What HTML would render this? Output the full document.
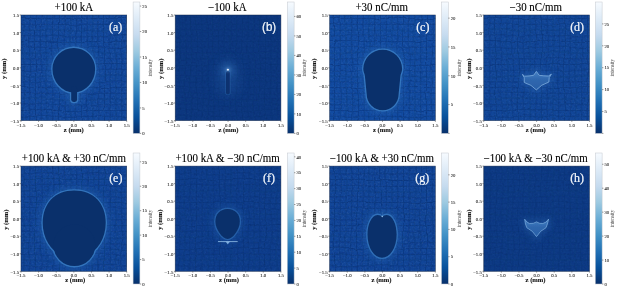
<!DOCTYPE html>
<html><head><meta charset="utf-8"><style>
html,body{margin:0;padding:0;background:#fff;}
body{width:617px;height:289px;overflow:hidden;font-family:"Liberation Serif",serif;}
svg{display:block;will-change:transform;}
</style></head><body>
<svg width="617" height="289" viewBox="0 0 617 289">
<defs><linearGradient id="cbg" x1="0" y1="1" x2="0" y2="0"><stop offset="0.0000" stop-color="#08306b"/><stop offset="0.1250" stop-color="#08519c"/><stop offset="0.2500" stop-color="#2171b5"/><stop offset="0.3750" stop-color="#4292c6"/><stop offset="0.5000" stop-color="#6baed6"/><stop offset="0.6250" stop-color="#9ecae1"/><stop offset="0.7500" stop-color="#c6dbef"/><stop offset="0.8750" stop-color="#deebf7"/><stop offset="1.0000" stop-color="#f7fbff"/></linearGradient>
<filter id="bl" x="-20%" y="-20%" width="140%" height="140%"><feGaussianBlur stdDeviation="0.7"/></filter>
<filter id="bl2" x="-150%" y="-150%" width="400%" height="400%"><feGaussianBlur stdDeviation="1.4"/></filter>
<filter id="bl3" x="-150%" y="-150%" width="400%" height="400%"><feGaussianBlur stdDeviation="3"/></filter>
<filter id="bl4" x="-20%" y="-20%" width="140%" height="140%"><feGaussianBlur stdDeviation="0.4"/></filter>
<filter id="bl6" x="-100%" y="-100%" width="300%" height="300%"><feGaussianBlur stdDeviation="6"/></filter>
<filter id="wv" x="-5%" y="-5%" width="110%" height="110%"><feTurbulence type="fractalNoise" baseFrequency="0.035" numOctaves="2" seed="11" result="w"/><feDisplacementMap in="SourceGraphic" in2="w" scale="5" xChannelSelector="R" yChannelSelector="G"/></filter>
<linearGradient id="gd" x1="0" y1="0" x2="0" y2="1"><stop offset="0" stop-color="#4680c4"/><stop offset="0.45" stop-color="#2f67ae"/><stop offset="1" stop-color="#2a60a8"/></linearGradient>
<filter id="nz" x="0" y="0" width="100%" height="100%" color-interpolation-filters="sRGB"><feTurbulence type="fractalNoise" baseFrequency="0.55" numOctaves="2" seed="7" result="t"/><feColorMatrix type="matrix" values="0 0 0 0 1  0 0 0 0 1  0 0 0 0 1  1.6 0 0 0 -0.75" /></filter>
<filter id="nzd" x="0" y="0" width="100%" height="100%" color-interpolation-filters="sRGB"><feTurbulence type="fractalNoise" baseFrequency="0.5" numOctaves="2" seed="3" result="t"/><feColorMatrix type="matrix" values="0 0 0 0 0  0 0 0 0 0.05  0 0 0 0 0.2  1.6 0 0 0 -0.75" /></filter>
<pattern id="grid" patternUnits="userSpaceOnUse" width="5.75" height="5.75" x="0.5" y="0.8"><rect x="0" y="0" width="0.9" height="5.75" fill="#06285e"/><rect x="0" y="0" width="5.75" height="0.9" fill="#06285e"/></pattern></defs>
<rect width="617" height="289" fill="#fff"/>
<g>
<clipPath id="cp0"><rect x="21.00" y="15.00" width="105.70" height="105.60"/></clipPath>
<rect x="21.00" y="15.00" width="105.70" height="105.60" fill="#12489c"/>
<g clip-path="url(#cp0)">
<g filter="url(#wv)"><rect x="17.00" y="11.00" width="113.70" height="113.60" fill="url(#grid)" opacity="0.300"/></g>
<rect x="21.00" y="15.00" width="105.70" height="105.60" filter="url(#nz)" opacity="0.100"/>
<rect x="21.00" y="15.00" width="105.70" height="105.60" filter="url(#nzd)" opacity="0.250"/>
<g filter="url(#bl3)" opacity="0.35"><path d="M73.80,47.90 A21.30,21.00 0 0 1 95.10,68.90 A21.30,23.60 0 0 1 73.80,92.50 A21.30,23.60 0 0 1 52.50,68.90 A21.30,21.00 0 0 1 73.80,47.90 Z" none stroke="#2a6cb8" stroke-width="9.00"/><rect x="71.2" y="86" width="5.9" height="15.9" rx="2.4" none stroke="#2a6cb8" stroke-width="9.00"/></g><g filter="url(#bl)" opacity="0.70"><path d="M73.80,47.90 A21.30,21.00 0 0 1 95.10,68.90 A21.30,23.60 0 0 1 73.80,92.50 A21.30,23.60 0 0 1 52.50,68.90 A21.30,21.00 0 0 1 73.80,47.90 Z" none stroke="#3f86cc" stroke-width="2.60"/><rect x="71.2" y="86" width="5.9" height="15.9" rx="2.4" none stroke="#3f86cc" stroke-width="2.60"/></g><path d="M73.80,47.90 A21.30,21.00 0 0 1 95.10,68.90 A21.30,23.60 0 0 1 73.80,92.50 A21.30,23.60 0 0 1 52.50,68.90 A21.30,21.00 0 0 1 73.80,47.90 Z" fill="#0a306b" /><rect x="71.2" y="86" width="5.9" height="15.9" rx="2.4" fill="#0a306b" />
</g>
<rect x="21.00" y="15.00" width="105.70" height="105.60" fill="none" stroke="#14284a" stroke-width="0.6" opacity="0.8"/>
<text transform="translate(108.95 30.50) scale(0.93 1)" font-family="'Liberation Serif', serif" font-size="12.8" fill="#f2f6fb" stroke="#f2f6fb" stroke-width="0.25">(a)</text>
<text transform="translate(73.85 10.80) scale(0.931 1)" font-family="'Liberation Serif', serif" font-size="11.7" fill="#000" stroke="#000" stroke-width="0.12" text-anchor="middle">+100 kA</text>
<line x1="21.00" y1="120.60" x2="21.00" y2="121.90" stroke="#333" stroke-width="0.5"/>
<text x="21.00" y="126.55" font-family="'Liberation Serif', serif" font-size="4.8" fill="#2a2a2a" stroke="#2a2a2a" stroke-width="0.08" text-anchor="middle">−1.5</text>
<line x1="19.70" y1="120.60" x2="21.00" y2="120.60" stroke="#333" stroke-width="0.5"/>
<text x="19.10" y="122.80" font-family="'Liberation Serif', serif" font-size="4.8" fill="#2a2a2a" stroke="#2a2a2a" stroke-width="0.08" text-anchor="end">−1.5</text>
<line x1="38.62" y1="120.60" x2="38.62" y2="121.90" stroke="#333" stroke-width="0.5"/>
<text x="38.62" y="126.55" font-family="'Liberation Serif', serif" font-size="4.8" fill="#2a2a2a" stroke="#2a2a2a" stroke-width="0.08" text-anchor="middle">−1.0</text>
<line x1="19.70" y1="103.00" x2="21.00" y2="103.00" stroke="#333" stroke-width="0.5"/>
<text x="19.10" y="105.20" font-family="'Liberation Serif', serif" font-size="4.8" fill="#2a2a2a" stroke="#2a2a2a" stroke-width="0.08" text-anchor="end">−1.0</text>
<line x1="56.23" y1="120.60" x2="56.23" y2="121.90" stroke="#333" stroke-width="0.5"/>
<text x="56.23" y="126.55" font-family="'Liberation Serif', serif" font-size="4.8" fill="#2a2a2a" stroke="#2a2a2a" stroke-width="0.08" text-anchor="middle">−0.5</text>
<line x1="19.70" y1="85.40" x2="21.00" y2="85.40" stroke="#333" stroke-width="0.5"/>
<text x="19.10" y="87.60" font-family="'Liberation Serif', serif" font-size="4.8" fill="#2a2a2a" stroke="#2a2a2a" stroke-width="0.08" text-anchor="end">−0.5</text>
<line x1="73.85" y1="120.60" x2="73.85" y2="121.90" stroke="#333" stroke-width="0.5"/>
<text x="73.85" y="126.55" font-family="'Liberation Serif', serif" font-size="4.8" fill="#2a2a2a" stroke="#2a2a2a" stroke-width="0.08" text-anchor="middle">0.0</text>
<line x1="19.70" y1="67.80" x2="21.00" y2="67.80" stroke="#333" stroke-width="0.5"/>
<text x="19.10" y="70.00" font-family="'Liberation Serif', serif" font-size="4.8" fill="#2a2a2a" stroke="#2a2a2a" stroke-width="0.08" text-anchor="end">0.0</text>
<line x1="91.47" y1="120.60" x2="91.47" y2="121.90" stroke="#333" stroke-width="0.5"/>
<text x="91.47" y="126.55" font-family="'Liberation Serif', serif" font-size="4.8" fill="#2a2a2a" stroke="#2a2a2a" stroke-width="0.08" text-anchor="middle">0.5</text>
<line x1="19.70" y1="50.20" x2="21.00" y2="50.20" stroke="#333" stroke-width="0.5"/>
<text x="19.10" y="52.40" font-family="'Liberation Serif', serif" font-size="4.8" fill="#2a2a2a" stroke="#2a2a2a" stroke-width="0.08" text-anchor="end">0.5</text>
<line x1="109.08" y1="120.60" x2="109.08" y2="121.90" stroke="#333" stroke-width="0.5"/>
<text x="109.08" y="126.55" font-family="'Liberation Serif', serif" font-size="4.8" fill="#2a2a2a" stroke="#2a2a2a" stroke-width="0.08" text-anchor="middle">1.0</text>
<line x1="19.70" y1="32.60" x2="21.00" y2="32.60" stroke="#333" stroke-width="0.5"/>
<text x="19.10" y="34.80" font-family="'Liberation Serif', serif" font-size="4.8" fill="#2a2a2a" stroke="#2a2a2a" stroke-width="0.08" text-anchor="end">1.0</text>
<line x1="126.70" y1="120.60" x2="126.70" y2="121.90" stroke="#333" stroke-width="0.5"/>
<text x="126.70" y="126.55" font-family="'Liberation Serif', serif" font-size="4.8" fill="#2a2a2a" stroke="#2a2a2a" stroke-width="0.08" text-anchor="middle">1.5</text>
<line x1="19.70" y1="15.00" x2="21.00" y2="15.00" stroke="#333" stroke-width="0.5"/>
<text x="19.10" y="17.20" font-family="'Liberation Serif', serif" font-size="4.8" fill="#2a2a2a" stroke="#2a2a2a" stroke-width="0.08" text-anchor="end">1.5</text>
<text x="73.80" y="132.35" font-family="'Liberation Serif', serif" font-size="6.6" font-weight="bold" fill="#111" stroke="#111" stroke-width="0.1" text-anchor="middle">z (mm)</text>
<text transform="translate(6.45 68.80) rotate(-90)" font-family="'Liberation Serif', serif" font-size="6.6" font-weight="bold" fill="#111" stroke="#111" stroke-width="0.1" text-anchor="middle">y (mm)</text>
<rect x="133.10" y="2.00" width="6.80" height="131.40" fill="url(#cbg)" stroke="#c4c8ce" stroke-width="0.5"/>
<line x1="139.90" y1="133.40" x2="141.20" y2="133.40" stroke="#333" stroke-width="0.5"/>
<line x1="139.90" y1="107.93" x2="141.20" y2="107.93" stroke="#333" stroke-width="0.5"/>
<line x1="139.90" y1="82.47" x2="141.20" y2="82.47" stroke="#333" stroke-width="0.5"/>
<line x1="139.90" y1="57.00" x2="141.20" y2="57.00" stroke="#333" stroke-width="0.5"/>
<line x1="139.90" y1="31.54" x2="141.20" y2="31.54" stroke="#333" stroke-width="0.5"/>
<line x1="139.90" y1="6.07" x2="141.20" y2="6.07" stroke="#333" stroke-width="0.5"/>
<text x="142.30" y="135.15" font-family="'Liberation Serif', serif" font-size="4.7" fill="#2a2a2a" stroke="#2a2a2a" stroke-width="0.08">0</text>
<text x="142.30" y="109.68" font-family="'Liberation Serif', serif" font-size="4.7" fill="#2a2a2a" stroke="#2a2a2a" stroke-width="0.08">5</text>
<text x="142.30" y="84.22" font-family="'Liberation Serif', serif" font-size="4.7" fill="#2a2a2a" stroke="#2a2a2a" stroke-width="0.08">10</text>
<text x="142.30" y="58.75" font-family="'Liberation Serif', serif" font-size="4.7" fill="#2a2a2a" stroke="#2a2a2a" stroke-width="0.08">15</text>
<text x="142.30" y="33.29" font-family="'Liberation Serif', serif" font-size="4.7" fill="#2a2a2a" stroke="#2a2a2a" stroke-width="0.08">20</text>
<text x="142.30" y="7.82" font-family="'Liberation Serif', serif" font-size="4.7" fill="#2a2a2a" stroke="#2a2a2a" stroke-width="0.08">25</text>
<text transform="translate(152.10 67.70) rotate(-90)" font-family="'Liberation Serif', serif" font-size="5.1" fill="#444" text-anchor="middle">intensity</text>
</g>
<g>
<clipPath id="cp1"><rect x="175.20" y="15.00" width="105.70" height="105.60"/></clipPath>
<rect x="175.20" y="15.00" width="105.70" height="105.60" fill="#0c377f"/>
<g clip-path="url(#cp1)">
<g filter="url(#wv)"><rect x="171.20" y="11.00" width="113.70" height="113.60" fill="url(#grid)" opacity="0.186"/></g>
<rect x="175.20" y="15.00" width="105.70" height="105.60" filter="url(#nz)" opacity="0.039"/>
<rect x="175.20" y="15.00" width="105.70" height="105.60" filter="url(#nzd)" opacity="0.155"/>
<g filter="url(#bl6)" opacity="0.3"><ellipse cx="228" cy="78" rx="11" ry="18" fill="#2a68b0"/></g><g filter="url(#bl3)" opacity="0.32"><circle cx="227.9" cy="70" r="3" none stroke="#3d7fc6" stroke-width="8.00"/></g><g filter="url(#bl)" opacity="0.3"><rect x="225.2" y="70.3" width="5.4" height="24.8" rx="2.7" fill="#3b7cc4"/></g><g filter="url(#bl4)"><rect x="226" y="71.0" width="3.8" height="23.4" rx="1.9" fill="#0a3170" /></g><g filter="url(#bl2)"><circle cx="227.9" cy="69.8" r="1.8" fill="#6a9fd8"/></g><g filter="url(#bl4)"><ellipse cx="227.9" cy="69.7" rx="1.15" ry="0.9" fill="#dfeaf8"/></g>
</g>
<rect x="175.20" y="15.00" width="105.70" height="105.60" fill="none" stroke="#14284a" stroke-width="0.6" opacity="0.8"/>
<text transform="translate(262.05 30.50) scale(0.93 1)" font-family="'Liberation Sans', sans-serif" font-size="12.4" fill="#f2f6fb" stroke="#f2f6fb" stroke-width="0.25">(b)</text>
<text transform="translate(227.25 10.80) scale(0.931 1)" font-family="'Liberation Serif', serif" font-size="11.7" fill="#000" stroke="#000" stroke-width="0.12" text-anchor="middle">−100 kA</text>
<line x1="175.20" y1="120.60" x2="175.20" y2="121.90" stroke="#333" stroke-width="0.5"/>
<text x="175.20" y="126.55" font-family="'Liberation Serif', serif" font-size="4.8" fill="#2a2a2a" stroke="#2a2a2a" stroke-width="0.08" text-anchor="middle">−1.5</text>
<line x1="173.90" y1="120.60" x2="175.20" y2="120.60" stroke="#333" stroke-width="0.5"/>
<text x="173.30" y="122.80" font-family="'Liberation Serif', serif" font-size="4.8" fill="#2a2a2a" stroke="#2a2a2a" stroke-width="0.08" text-anchor="end">−1.5</text>
<line x1="192.82" y1="120.60" x2="192.82" y2="121.90" stroke="#333" stroke-width="0.5"/>
<text x="192.82" y="126.55" font-family="'Liberation Serif', serif" font-size="4.8" fill="#2a2a2a" stroke="#2a2a2a" stroke-width="0.08" text-anchor="middle">−1.0</text>
<line x1="173.90" y1="103.00" x2="175.20" y2="103.00" stroke="#333" stroke-width="0.5"/>
<text x="173.30" y="105.20" font-family="'Liberation Serif', serif" font-size="4.8" fill="#2a2a2a" stroke="#2a2a2a" stroke-width="0.08" text-anchor="end">−1.0</text>
<line x1="210.43" y1="120.60" x2="210.43" y2="121.90" stroke="#333" stroke-width="0.5"/>
<text x="210.43" y="126.55" font-family="'Liberation Serif', serif" font-size="4.8" fill="#2a2a2a" stroke="#2a2a2a" stroke-width="0.08" text-anchor="middle">−0.5</text>
<line x1="173.90" y1="85.40" x2="175.20" y2="85.40" stroke="#333" stroke-width="0.5"/>
<text x="173.30" y="87.60" font-family="'Liberation Serif', serif" font-size="4.8" fill="#2a2a2a" stroke="#2a2a2a" stroke-width="0.08" text-anchor="end">−0.5</text>
<line x1="228.05" y1="120.60" x2="228.05" y2="121.90" stroke="#333" stroke-width="0.5"/>
<text x="228.05" y="126.55" font-family="'Liberation Serif', serif" font-size="4.8" fill="#2a2a2a" stroke="#2a2a2a" stroke-width="0.08" text-anchor="middle">0.0</text>
<line x1="173.90" y1="67.80" x2="175.20" y2="67.80" stroke="#333" stroke-width="0.5"/>
<text x="173.30" y="70.00" font-family="'Liberation Serif', serif" font-size="4.8" fill="#2a2a2a" stroke="#2a2a2a" stroke-width="0.08" text-anchor="end">0.0</text>
<line x1="245.67" y1="120.60" x2="245.67" y2="121.90" stroke="#333" stroke-width="0.5"/>
<text x="245.67" y="126.55" font-family="'Liberation Serif', serif" font-size="4.8" fill="#2a2a2a" stroke="#2a2a2a" stroke-width="0.08" text-anchor="middle">0.5</text>
<line x1="173.90" y1="50.20" x2="175.20" y2="50.20" stroke="#333" stroke-width="0.5"/>
<text x="173.30" y="52.40" font-family="'Liberation Serif', serif" font-size="4.8" fill="#2a2a2a" stroke="#2a2a2a" stroke-width="0.08" text-anchor="end">0.5</text>
<line x1="263.28" y1="120.60" x2="263.28" y2="121.90" stroke="#333" stroke-width="0.5"/>
<text x="263.28" y="126.55" font-family="'Liberation Serif', serif" font-size="4.8" fill="#2a2a2a" stroke="#2a2a2a" stroke-width="0.08" text-anchor="middle">1.0</text>
<line x1="173.90" y1="32.60" x2="175.20" y2="32.60" stroke="#333" stroke-width="0.5"/>
<text x="173.30" y="34.80" font-family="'Liberation Serif', serif" font-size="4.8" fill="#2a2a2a" stroke="#2a2a2a" stroke-width="0.08" text-anchor="end">1.0</text>
<line x1="280.90" y1="120.60" x2="280.90" y2="121.90" stroke="#333" stroke-width="0.5"/>
<text x="280.90" y="126.55" font-family="'Liberation Serif', serif" font-size="4.8" fill="#2a2a2a" stroke="#2a2a2a" stroke-width="0.08" text-anchor="middle">1.5</text>
<line x1="173.90" y1="15.00" x2="175.20" y2="15.00" stroke="#333" stroke-width="0.5"/>
<text x="173.30" y="17.20" font-family="'Liberation Serif', serif" font-size="4.8" fill="#2a2a2a" stroke="#2a2a2a" stroke-width="0.08" text-anchor="end">1.5</text>
<text x="228.50" y="132.35" font-family="'Liberation Serif', serif" font-size="6.6" font-weight="bold" fill="#111" stroke="#111" stroke-width="0.1" text-anchor="middle">z (mm)</text>
<text transform="translate(163.05 68.80) rotate(-90)" font-family="'Liberation Serif', serif" font-size="6.6" font-weight="bold" fill="#111" stroke="#111" stroke-width="0.1" text-anchor="middle">y (mm)</text>
<rect x="287.30" y="2.00" width="6.80" height="131.40" fill="url(#cbg)" stroke="#c4c8ce" stroke-width="0.5"/>
<line x1="294.10" y1="133.40" x2="295.40" y2="133.40" stroke="#333" stroke-width="0.5"/>
<line x1="294.10" y1="113.90" x2="295.40" y2="113.90" stroke="#333" stroke-width="0.5"/>
<line x1="294.10" y1="94.41" x2="295.40" y2="94.41" stroke="#333" stroke-width="0.5"/>
<line x1="294.10" y1="74.91" x2="295.40" y2="74.91" stroke="#333" stroke-width="0.5"/>
<line x1="294.10" y1="55.42" x2="295.40" y2="55.42" stroke="#333" stroke-width="0.5"/>
<line x1="294.10" y1="35.92" x2="295.40" y2="35.92" stroke="#333" stroke-width="0.5"/>
<line x1="294.10" y1="16.43" x2="295.40" y2="16.43" stroke="#333" stroke-width="0.5"/>
<text x="296.50" y="135.15" font-family="'Liberation Serif', serif" font-size="4.7" fill="#2a2a2a" stroke="#2a2a2a" stroke-width="0.08">0</text>
<text x="296.50" y="115.65" font-family="'Liberation Serif', serif" font-size="4.7" fill="#2a2a2a" stroke="#2a2a2a" stroke-width="0.08">10</text>
<text x="296.50" y="96.16" font-family="'Liberation Serif', serif" font-size="4.7" fill="#2a2a2a" stroke="#2a2a2a" stroke-width="0.08">20</text>
<text x="296.50" y="76.66" font-family="'Liberation Serif', serif" font-size="4.7" fill="#2a2a2a" stroke="#2a2a2a" stroke-width="0.08">30</text>
<text x="296.50" y="57.17" font-family="'Liberation Serif', serif" font-size="4.7" fill="#2a2a2a" stroke="#2a2a2a" stroke-width="0.08">40</text>
<text x="296.50" y="37.67" font-family="'Liberation Serif', serif" font-size="4.7" fill="#2a2a2a" stroke="#2a2a2a" stroke-width="0.08">50</text>
<text x="296.50" y="18.18" font-family="'Liberation Serif', serif" font-size="4.7" fill="#2a2a2a" stroke="#2a2a2a" stroke-width="0.08">60</text>
<text transform="translate(306.30 67.70) rotate(-90)" font-family="'Liberation Serif', serif" font-size="5.1" fill="#444" text-anchor="middle">intensity</text>
</g>
<g>
<clipPath id="cp2"><rect x="329.65" y="15.00" width="105.70" height="105.60"/></clipPath>
<rect x="329.65" y="15.00" width="105.70" height="105.60" fill="#124ba1"/>
<g clip-path="url(#cp2)">
<g filter="url(#wv)"><rect x="325.65" y="11.00" width="113.70" height="113.60" fill="url(#grid)" opacity="0.300"/></g>
<rect x="329.65" y="15.00" width="105.70" height="105.60" filter="url(#nz)" opacity="0.100"/>
<rect x="329.65" y="15.00" width="105.70" height="105.60" filter="url(#nzd)" opacity="0.250"/>
<g filter="url(#bl3)" opacity="0.35"><path d="M382.7,49.7 A19.4,19.4 0 0 1 402.1,68.9 C402.1,71.6 400.6,73.5 400.4,76 L398.6,94.2 A15.95,15.95 0 0 1 366.7,94.2 L364.9,76 C364.7,73.5 363.3,71.6 363.3,68.9 A19.4,19.4 0 0 1 382.7,49.7 Z" none stroke="#2a6cb8" stroke-width="9.00"/></g><g filter="url(#bl)" opacity="0.70"><path d="M382.7,49.7 A19.4,19.4 0 0 1 402.1,68.9 C402.1,71.6 400.6,73.5 400.4,76 L398.6,94.2 A15.95,15.95 0 0 1 366.7,94.2 L364.9,76 C364.7,73.5 363.3,71.6 363.3,68.9 A19.4,19.4 0 0 1 382.7,49.7 Z" none stroke="#3f86cc" stroke-width="2.60"/></g><path d="M382.7,49.7 A19.4,19.4 0 0 1 402.1,68.9 C402.1,71.6 400.6,73.5 400.4,76 L398.6,94.2 A15.95,15.95 0 0 1 366.7,94.2 L364.9,76 C364.7,73.5 363.3,71.6 363.3,68.9 A19.4,19.4 0 0 1 382.7,49.7 Z" fill="#0a306b" />
</g>
<rect x="329.65" y="15.00" width="105.70" height="105.60" fill="none" stroke="#14284a" stroke-width="0.6" opacity="0.8"/>
<text transform="translate(416.15 30.50) scale(0.93 1)" font-family="'Liberation Serif', serif" font-size="12.8" fill="#f2f6fb" stroke="#f2f6fb" stroke-width="0.25">(c)</text>
<text transform="translate(381.65 10.80) scale(0.931 1)" font-family="'Liberation Serif', serif" font-size="11.7" fill="#000" stroke="#000" stroke-width="0.12" text-anchor="middle">+30 nC/mm</text>
<line x1="329.65" y1="120.60" x2="329.65" y2="121.90" stroke="#333" stroke-width="0.5"/>
<text x="329.65" y="126.55" font-family="'Liberation Serif', serif" font-size="4.8" fill="#2a2a2a" stroke="#2a2a2a" stroke-width="0.08" text-anchor="middle">−1.5</text>
<line x1="328.35" y1="120.60" x2="329.65" y2="120.60" stroke="#333" stroke-width="0.5"/>
<text x="327.75" y="122.80" font-family="'Liberation Serif', serif" font-size="4.8" fill="#2a2a2a" stroke="#2a2a2a" stroke-width="0.08" text-anchor="end">−1.5</text>
<line x1="347.27" y1="120.60" x2="347.27" y2="121.90" stroke="#333" stroke-width="0.5"/>
<text x="347.27" y="126.55" font-family="'Liberation Serif', serif" font-size="4.8" fill="#2a2a2a" stroke="#2a2a2a" stroke-width="0.08" text-anchor="middle">−1.0</text>
<line x1="328.35" y1="103.00" x2="329.65" y2="103.00" stroke="#333" stroke-width="0.5"/>
<text x="327.75" y="105.20" font-family="'Liberation Serif', serif" font-size="4.8" fill="#2a2a2a" stroke="#2a2a2a" stroke-width="0.08" text-anchor="end">−1.0</text>
<line x1="364.88" y1="120.60" x2="364.88" y2="121.90" stroke="#333" stroke-width="0.5"/>
<text x="364.88" y="126.55" font-family="'Liberation Serif', serif" font-size="4.8" fill="#2a2a2a" stroke="#2a2a2a" stroke-width="0.08" text-anchor="middle">−0.5</text>
<line x1="328.35" y1="85.40" x2="329.65" y2="85.40" stroke="#333" stroke-width="0.5"/>
<text x="327.75" y="87.60" font-family="'Liberation Serif', serif" font-size="4.8" fill="#2a2a2a" stroke="#2a2a2a" stroke-width="0.08" text-anchor="end">−0.5</text>
<line x1="382.50" y1="120.60" x2="382.50" y2="121.90" stroke="#333" stroke-width="0.5"/>
<text x="382.50" y="126.55" font-family="'Liberation Serif', serif" font-size="4.8" fill="#2a2a2a" stroke="#2a2a2a" stroke-width="0.08" text-anchor="middle">0.0</text>
<line x1="328.35" y1="67.80" x2="329.65" y2="67.80" stroke="#333" stroke-width="0.5"/>
<text x="327.75" y="70.00" font-family="'Liberation Serif', serif" font-size="4.8" fill="#2a2a2a" stroke="#2a2a2a" stroke-width="0.08" text-anchor="end">0.0</text>
<line x1="400.12" y1="120.60" x2="400.12" y2="121.90" stroke="#333" stroke-width="0.5"/>
<text x="400.12" y="126.55" font-family="'Liberation Serif', serif" font-size="4.8" fill="#2a2a2a" stroke="#2a2a2a" stroke-width="0.08" text-anchor="middle">0.5</text>
<line x1="328.35" y1="50.20" x2="329.65" y2="50.20" stroke="#333" stroke-width="0.5"/>
<text x="327.75" y="52.40" font-family="'Liberation Serif', serif" font-size="4.8" fill="#2a2a2a" stroke="#2a2a2a" stroke-width="0.08" text-anchor="end">0.5</text>
<line x1="417.73" y1="120.60" x2="417.73" y2="121.90" stroke="#333" stroke-width="0.5"/>
<text x="417.73" y="126.55" font-family="'Liberation Serif', serif" font-size="4.8" fill="#2a2a2a" stroke="#2a2a2a" stroke-width="0.08" text-anchor="middle">1.0</text>
<line x1="328.35" y1="32.60" x2="329.65" y2="32.60" stroke="#333" stroke-width="0.5"/>
<text x="327.75" y="34.80" font-family="'Liberation Serif', serif" font-size="4.8" fill="#2a2a2a" stroke="#2a2a2a" stroke-width="0.08" text-anchor="end">1.0</text>
<line x1="435.35" y1="120.60" x2="435.35" y2="121.90" stroke="#333" stroke-width="0.5"/>
<text x="435.35" y="126.55" font-family="'Liberation Serif', serif" font-size="4.8" fill="#2a2a2a" stroke="#2a2a2a" stroke-width="0.08" text-anchor="middle">1.5</text>
<line x1="328.35" y1="15.00" x2="329.65" y2="15.00" stroke="#333" stroke-width="0.5"/>
<text x="327.75" y="17.20" font-family="'Liberation Serif', serif" font-size="4.8" fill="#2a2a2a" stroke="#2a2a2a" stroke-width="0.08" text-anchor="end">1.5</text>
<text x="383.00" y="132.35" font-family="'Liberation Serif', serif" font-size="6.6" font-weight="bold" fill="#111" stroke="#111" stroke-width="0.1" text-anchor="middle">z (mm)</text>
<text transform="translate(315.70 68.80) rotate(-90)" font-family="'Liberation Serif', serif" font-size="6.6" font-weight="bold" fill="#111" stroke="#111" stroke-width="0.1" text-anchor="middle">y (mm)</text>
<rect x="441.50" y="2.00" width="6.80" height="131.40" fill="url(#cbg)" stroke="#c4c8ce" stroke-width="0.5"/>
<line x1="448.30" y1="133.40" x2="449.60" y2="133.40" stroke="#333" stroke-width="0.5"/>
<line x1="448.30" y1="104.58" x2="449.60" y2="104.58" stroke="#333" stroke-width="0.5"/>
<line x1="448.30" y1="75.77" x2="449.60" y2="75.77" stroke="#333" stroke-width="0.5"/>
<line x1="448.30" y1="46.95" x2="449.60" y2="46.95" stroke="#333" stroke-width="0.5"/>
<line x1="448.30" y1="18.14" x2="449.60" y2="18.14" stroke="#333" stroke-width="0.5"/>
<text x="450.70" y="106.33" font-family="'Liberation Serif', serif" font-size="4.7" fill="#2a2a2a" stroke="#2a2a2a" stroke-width="0.08">5</text>
<text x="450.70" y="77.52" font-family="'Liberation Serif', serif" font-size="4.7" fill="#2a2a2a" stroke="#2a2a2a" stroke-width="0.08">10</text>
<text x="450.70" y="48.70" font-family="'Liberation Serif', serif" font-size="4.7" fill="#2a2a2a" stroke="#2a2a2a" stroke-width="0.08">15</text>
<text x="450.70" y="19.89" font-family="'Liberation Serif', serif" font-size="4.7" fill="#2a2a2a" stroke="#2a2a2a" stroke-width="0.08">20</text>
<text transform="translate(460.50 67.70) rotate(-90)" font-family="'Liberation Serif', serif" font-size="5.1" fill="#444" text-anchor="middle">intensity</text>
</g>
<g>
<clipPath id="cp3"><rect x="483.75" y="15.00" width="105.70" height="105.60"/></clipPath>
<rect x="483.75" y="15.00" width="105.70" height="105.60" fill="#114698"/>
<g clip-path="url(#cp3)">
<g filter="url(#wv)"><rect x="479.75" y="11.00" width="113.70" height="113.60" fill="url(#grid)" opacity="0.279"/></g>
<rect x="483.75" y="15.00" width="105.70" height="105.60" filter="url(#nz)" opacity="0.087"/>
<rect x="483.75" y="15.00" width="105.70" height="105.60" filter="url(#nzd)" opacity="0.233"/>
<g filter="url(#bl3)" opacity="0.30"><path d="M522.4,74.4 L524.6,76.2 Q529,76.1 533.6,75.3 L536.4,71.4 L539.2,75.3 Q544,76.0 548.4,76.0 L551.4,74.2 L549.2,77.6 L548.9,82.0 Q541,84.5 536.3,89.9 Q531.6,84.5 524.3,82.5 L524.2,77.6 Z" none stroke="#3a7cc4" stroke-width="6.00"/></g><path d="M522.4,74.4 L524.6,76.2 Q529,76.1 533.6,75.3 L536.4,71.4 L539.2,75.3 Q544,76.0 548.4,76.0 L551.4,74.2 L549.2,77.6 L548.9,82.0 Q541,84.5 536.3,89.9 Q531.6,84.5 524.3,82.5 L524.2,77.6 Z" fill="url(#gd)" stroke="#78a9dc" stroke-width="0.85" stroke-linejoin="round" filter="url(#bl4)"/>
</g>
<rect x="483.75" y="15.00" width="105.70" height="105.60" fill="none" stroke="#14284a" stroke-width="0.6" opacity="0.8"/>
<text transform="translate(570.15 30.50) scale(0.93 1)" font-family="'Liberation Serif', serif" font-size="12.8" fill="#f2f6fb" stroke="#f2f6fb" stroke-width="0.25">(d)</text>
<text transform="translate(535.75 10.80) scale(0.931 1)" font-family="'Liberation Serif', serif" font-size="11.7" fill="#000" stroke="#000" stroke-width="0.12" text-anchor="middle">−30 nC/mm</text>
<line x1="483.75" y1="120.60" x2="483.75" y2="121.90" stroke="#333" stroke-width="0.5"/>
<text x="483.75" y="126.55" font-family="'Liberation Serif', serif" font-size="4.8" fill="#2a2a2a" stroke="#2a2a2a" stroke-width="0.08" text-anchor="middle">−1.5</text>
<line x1="482.45" y1="120.60" x2="483.75" y2="120.60" stroke="#333" stroke-width="0.5"/>
<text x="481.85" y="122.80" font-family="'Liberation Serif', serif" font-size="4.8" fill="#2a2a2a" stroke="#2a2a2a" stroke-width="0.08" text-anchor="end">−1.5</text>
<line x1="501.37" y1="120.60" x2="501.37" y2="121.90" stroke="#333" stroke-width="0.5"/>
<text x="501.37" y="126.55" font-family="'Liberation Serif', serif" font-size="4.8" fill="#2a2a2a" stroke="#2a2a2a" stroke-width="0.08" text-anchor="middle">−1.0</text>
<line x1="482.45" y1="103.00" x2="483.75" y2="103.00" stroke="#333" stroke-width="0.5"/>
<text x="481.85" y="105.20" font-family="'Liberation Serif', serif" font-size="4.8" fill="#2a2a2a" stroke="#2a2a2a" stroke-width="0.08" text-anchor="end">−1.0</text>
<line x1="518.98" y1="120.60" x2="518.98" y2="121.90" stroke="#333" stroke-width="0.5"/>
<text x="518.98" y="126.55" font-family="'Liberation Serif', serif" font-size="4.8" fill="#2a2a2a" stroke="#2a2a2a" stroke-width="0.08" text-anchor="middle">−0.5</text>
<line x1="482.45" y1="85.40" x2="483.75" y2="85.40" stroke="#333" stroke-width="0.5"/>
<text x="481.85" y="87.60" font-family="'Liberation Serif', serif" font-size="4.8" fill="#2a2a2a" stroke="#2a2a2a" stroke-width="0.08" text-anchor="end">−0.5</text>
<line x1="536.60" y1="120.60" x2="536.60" y2="121.90" stroke="#333" stroke-width="0.5"/>
<text x="536.60" y="126.55" font-family="'Liberation Serif', serif" font-size="4.8" fill="#2a2a2a" stroke="#2a2a2a" stroke-width="0.08" text-anchor="middle">0.0</text>
<line x1="482.45" y1="67.80" x2="483.75" y2="67.80" stroke="#333" stroke-width="0.5"/>
<text x="481.85" y="70.00" font-family="'Liberation Serif', serif" font-size="4.8" fill="#2a2a2a" stroke="#2a2a2a" stroke-width="0.08" text-anchor="end">0.0</text>
<line x1="554.22" y1="120.60" x2="554.22" y2="121.90" stroke="#333" stroke-width="0.5"/>
<text x="554.22" y="126.55" font-family="'Liberation Serif', serif" font-size="4.8" fill="#2a2a2a" stroke="#2a2a2a" stroke-width="0.08" text-anchor="middle">0.5</text>
<line x1="482.45" y1="50.20" x2="483.75" y2="50.20" stroke="#333" stroke-width="0.5"/>
<text x="481.85" y="52.40" font-family="'Liberation Serif', serif" font-size="4.8" fill="#2a2a2a" stroke="#2a2a2a" stroke-width="0.08" text-anchor="end">0.5</text>
<line x1="571.83" y1="120.60" x2="571.83" y2="121.90" stroke="#333" stroke-width="0.5"/>
<text x="571.83" y="126.55" font-family="'Liberation Serif', serif" font-size="4.8" fill="#2a2a2a" stroke="#2a2a2a" stroke-width="0.08" text-anchor="middle">1.0</text>
<line x1="482.45" y1="32.60" x2="483.75" y2="32.60" stroke="#333" stroke-width="0.5"/>
<text x="481.85" y="34.80" font-family="'Liberation Serif', serif" font-size="4.8" fill="#2a2a2a" stroke="#2a2a2a" stroke-width="0.08" text-anchor="end">1.0</text>
<line x1="589.45" y1="120.60" x2="589.45" y2="121.90" stroke="#333" stroke-width="0.5"/>
<text x="589.45" y="126.55" font-family="'Liberation Serif', serif" font-size="4.8" fill="#2a2a2a" stroke="#2a2a2a" stroke-width="0.08" text-anchor="middle">1.5</text>
<line x1="482.45" y1="15.00" x2="483.75" y2="15.00" stroke="#333" stroke-width="0.5"/>
<text x="481.85" y="17.20" font-family="'Liberation Serif', serif" font-size="4.8" fill="#2a2a2a" stroke="#2a2a2a" stroke-width="0.08" text-anchor="end">1.5</text>
<text x="535.75" y="132.35" font-family="'Liberation Serif', serif" font-size="6.6" font-weight="bold" fill="#111" stroke="#111" stroke-width="0.1" text-anchor="middle">z (mm)</text>
<text transform="translate(471.00 68.80) rotate(-90)" font-family="'Liberation Serif', serif" font-size="6.6" font-weight="bold" fill="#111" stroke="#111" stroke-width="0.1" text-anchor="middle">y (mm)</text>
<rect x="595.30" y="2.00" width="6.80" height="131.40" fill="url(#cbg)" stroke="#c4c8ce" stroke-width="0.5"/>
<line x1="602.10" y1="133.40" x2="603.40" y2="133.40" stroke="#333" stroke-width="0.5"/>
<line x1="602.10" y1="111.50" x2="603.40" y2="111.50" stroke="#333" stroke-width="0.5"/>
<line x1="602.10" y1="89.60" x2="603.40" y2="89.60" stroke="#333" stroke-width="0.5"/>
<line x1="602.10" y1="67.70" x2="603.40" y2="67.70" stroke="#333" stroke-width="0.5"/>
<line x1="602.10" y1="45.80" x2="603.40" y2="45.80" stroke="#333" stroke-width="0.5"/>
<line x1="602.10" y1="23.90" x2="603.40" y2="23.90" stroke="#333" stroke-width="0.5"/>
<text x="604.50" y="113.25" font-family="'Liberation Serif', serif" font-size="4.7" fill="#2a2a2a" stroke="#2a2a2a" stroke-width="0.08">5</text>
<text x="604.50" y="91.35" font-family="'Liberation Serif', serif" font-size="4.7" fill="#2a2a2a" stroke="#2a2a2a" stroke-width="0.08">10</text>
<text x="604.50" y="69.45" font-family="'Liberation Serif', serif" font-size="4.7" fill="#2a2a2a" stroke="#2a2a2a" stroke-width="0.08">15</text>
<text x="604.50" y="47.55" font-family="'Liberation Serif', serif" font-size="4.7" fill="#2a2a2a" stroke="#2a2a2a" stroke-width="0.08">20</text>
<text x="604.50" y="25.65" font-family="'Liberation Serif', serif" font-size="4.7" fill="#2a2a2a" stroke="#2a2a2a" stroke-width="0.08">25</text>
<text transform="translate(614.30 67.70) rotate(-90)" font-family="'Liberation Serif', serif" font-size="5.1" fill="#444" text-anchor="middle">intensity</text>
</g>
<g>
<clipPath id="cp4"><rect x="21.00" y="166.10" width="105.70" height="105.20"/></clipPath>
<rect x="21.00" y="166.10" width="105.70" height="105.20" fill="#114598"/>
<g clip-path="url(#cp4)">
<g filter="url(#wv)"><rect x="17.00" y="162.10" width="113.70" height="113.20" fill="url(#grid)" opacity="0.295"/></g>
<rect x="21.00" y="166.10" width="105.70" height="105.20" filter="url(#nz)" opacity="0.097"/>
<rect x="21.00" y="166.10" width="105.70" height="105.20" filter="url(#nzd)" opacity="0.246"/>
<g filter="url(#bl3)" opacity="0.35"><path d="M74.20,190.60 C93.42,190.60 105.70,203.24 105.70,223.00 C105.70,242.94 91.84,258.60 74.20,258.60 C56.56,258.60 42.70,242.94 42.70,223.00 C42.70,203.24 54.98,190.60 74.20,190.60 Z" none stroke="#2a6cb8" stroke-width="9.00"/><circle cx="74.4" cy="245.2" r="20.9" none stroke="#2a6cb8" stroke-width="9.00"/></g><g filter="url(#bl)" opacity="0.70"><path d="M74.20,190.60 C93.42,190.60 105.70,203.24 105.70,223.00 C105.70,242.94 91.84,258.60 74.20,258.60 C56.56,258.60 42.70,242.94 42.70,223.00 C42.70,203.24 54.98,190.60 74.20,190.60 Z" none stroke="#3f86cc" stroke-width="2.60"/><circle cx="74.4" cy="245.2" r="20.9" none stroke="#3f86cc" stroke-width="2.60"/></g><path d="M74.20,190.60 C93.42,190.60 105.70,203.24 105.70,223.00 C105.70,242.94 91.84,258.60 74.20,258.60 C56.56,258.60 42.70,242.94 42.70,223.00 C42.70,203.24 54.98,190.60 74.20,190.60 Z" fill="#0a306b" /><circle cx="74.4" cy="245.2" r="20.9" fill="#0a306b" />
</g>
<rect x="21.00" y="166.10" width="105.70" height="105.20" fill="none" stroke="#14284a" stroke-width="0.6" opacity="0.8"/>
<text transform="translate(109.15 181.60) scale(0.93 1)" font-family="'Liberation Serif', serif" font-size="12.8" fill="#f2f6fb" stroke="#f2f6fb" stroke-width="0.25">(e)</text>
<text transform="translate(73.85 161.60) scale(0.931 1)" font-family="'Liberation Serif', serif" font-size="11.7" fill="#000" stroke="#000" stroke-width="0.12" text-anchor="middle">+100 kA &amp; +30 nC/mm</text>
<line x1="21.00" y1="271.30" x2="21.00" y2="272.60" stroke="#333" stroke-width="0.5"/>
<text x="21.00" y="277.25" font-family="'Liberation Serif', serif" font-size="4.8" fill="#2a2a2a" stroke="#2a2a2a" stroke-width="0.08" text-anchor="middle">−1.5</text>
<line x1="19.70" y1="271.30" x2="21.00" y2="271.30" stroke="#333" stroke-width="0.5"/>
<text x="19.10" y="273.50" font-family="'Liberation Serif', serif" font-size="4.8" fill="#2a2a2a" stroke="#2a2a2a" stroke-width="0.08" text-anchor="end">−1.5</text>
<line x1="38.62" y1="271.30" x2="38.62" y2="272.60" stroke="#333" stroke-width="0.5"/>
<text x="38.62" y="277.25" font-family="'Liberation Serif', serif" font-size="4.8" fill="#2a2a2a" stroke="#2a2a2a" stroke-width="0.08" text-anchor="middle">−1.0</text>
<line x1="19.70" y1="253.77" x2="21.00" y2="253.77" stroke="#333" stroke-width="0.5"/>
<text x="19.10" y="255.97" font-family="'Liberation Serif', serif" font-size="4.8" fill="#2a2a2a" stroke="#2a2a2a" stroke-width="0.08" text-anchor="end">−1.0</text>
<line x1="56.23" y1="271.30" x2="56.23" y2="272.60" stroke="#333" stroke-width="0.5"/>
<text x="56.23" y="277.25" font-family="'Liberation Serif', serif" font-size="4.8" fill="#2a2a2a" stroke="#2a2a2a" stroke-width="0.08" text-anchor="middle">−0.5</text>
<line x1="19.70" y1="236.23" x2="21.00" y2="236.23" stroke="#333" stroke-width="0.5"/>
<text x="19.10" y="238.43" font-family="'Liberation Serif', serif" font-size="4.8" fill="#2a2a2a" stroke="#2a2a2a" stroke-width="0.08" text-anchor="end">−0.5</text>
<line x1="73.85" y1="271.30" x2="73.85" y2="272.60" stroke="#333" stroke-width="0.5"/>
<text x="73.85" y="277.25" font-family="'Liberation Serif', serif" font-size="4.8" fill="#2a2a2a" stroke="#2a2a2a" stroke-width="0.08" text-anchor="middle">0.0</text>
<line x1="19.70" y1="218.70" x2="21.00" y2="218.70" stroke="#333" stroke-width="0.5"/>
<text x="19.10" y="220.90" font-family="'Liberation Serif', serif" font-size="4.8" fill="#2a2a2a" stroke="#2a2a2a" stroke-width="0.08" text-anchor="end">0.0</text>
<line x1="91.47" y1="271.30" x2="91.47" y2="272.60" stroke="#333" stroke-width="0.5"/>
<text x="91.47" y="277.25" font-family="'Liberation Serif', serif" font-size="4.8" fill="#2a2a2a" stroke="#2a2a2a" stroke-width="0.08" text-anchor="middle">0.5</text>
<line x1="19.70" y1="201.17" x2="21.00" y2="201.17" stroke="#333" stroke-width="0.5"/>
<text x="19.10" y="203.37" font-family="'Liberation Serif', serif" font-size="4.8" fill="#2a2a2a" stroke="#2a2a2a" stroke-width="0.08" text-anchor="end">0.5</text>
<line x1="109.08" y1="271.30" x2="109.08" y2="272.60" stroke="#333" stroke-width="0.5"/>
<text x="109.08" y="277.25" font-family="'Liberation Serif', serif" font-size="4.8" fill="#2a2a2a" stroke="#2a2a2a" stroke-width="0.08" text-anchor="middle">1.0</text>
<line x1="19.70" y1="183.63" x2="21.00" y2="183.63" stroke="#333" stroke-width="0.5"/>
<text x="19.10" y="185.83" font-family="'Liberation Serif', serif" font-size="4.8" fill="#2a2a2a" stroke="#2a2a2a" stroke-width="0.08" text-anchor="end">1.0</text>
<line x1="126.70" y1="271.30" x2="126.70" y2="272.60" stroke="#333" stroke-width="0.5"/>
<text x="126.70" y="277.25" font-family="'Liberation Serif', serif" font-size="4.8" fill="#2a2a2a" stroke="#2a2a2a" stroke-width="0.08" text-anchor="middle">1.5</text>
<line x1="19.70" y1="166.10" x2="21.00" y2="166.10" stroke="#333" stroke-width="0.5"/>
<text x="19.10" y="168.30" font-family="'Liberation Serif', serif" font-size="4.8" fill="#2a2a2a" stroke="#2a2a2a" stroke-width="0.08" text-anchor="end">1.5</text>
<text x="75.20" y="282.15" font-family="'Liberation Serif', serif" font-size="6.6" font-weight="bold" fill="#111" stroke="#111" stroke-width="0.1" text-anchor="middle">z (mm)</text>
<text transform="translate(8.35 219.70) rotate(-90)" font-family="'Liberation Serif', serif" font-size="6.6" font-weight="bold" fill="#111" stroke="#111" stroke-width="0.1" text-anchor="middle">y (mm)</text>
<rect x="133.10" y="153.00" width="6.80" height="131.00" fill="url(#cbg)" stroke="#c4c8ce" stroke-width="0.5"/>
<line x1="139.90" y1="284.00" x2="141.20" y2="284.00" stroke="#333" stroke-width="0.5"/>
<line x1="139.90" y1="259.56" x2="141.20" y2="259.56" stroke="#333" stroke-width="0.5"/>
<line x1="139.90" y1="235.12" x2="141.20" y2="235.12" stroke="#333" stroke-width="0.5"/>
<line x1="139.90" y1="210.68" x2="141.20" y2="210.68" stroke="#333" stroke-width="0.5"/>
<line x1="139.90" y1="186.24" x2="141.20" y2="186.24" stroke="#333" stroke-width="0.5"/>
<line x1="139.90" y1="161.80" x2="141.20" y2="161.80" stroke="#333" stroke-width="0.5"/>
<text x="142.30" y="285.75" font-family="'Liberation Serif', serif" font-size="4.7" fill="#2a2a2a" stroke="#2a2a2a" stroke-width="0.08">0</text>
<text x="142.30" y="261.31" font-family="'Liberation Serif', serif" font-size="4.7" fill="#2a2a2a" stroke="#2a2a2a" stroke-width="0.08">5</text>
<text x="142.30" y="236.87" font-family="'Liberation Serif', serif" font-size="4.7" fill="#2a2a2a" stroke="#2a2a2a" stroke-width="0.08">10</text>
<text x="142.30" y="212.43" font-family="'Liberation Serif', serif" font-size="4.7" fill="#2a2a2a" stroke="#2a2a2a" stroke-width="0.08">15</text>
<text x="142.30" y="187.99" font-family="'Liberation Serif', serif" font-size="4.7" fill="#2a2a2a" stroke="#2a2a2a" stroke-width="0.08">20</text>
<text x="142.30" y="163.55" font-family="'Liberation Serif', serif" font-size="4.7" fill="#2a2a2a" stroke="#2a2a2a" stroke-width="0.08">25</text>
<text transform="translate(152.10 218.50) rotate(-90)" font-family="'Liberation Serif', serif" font-size="5.1" fill="#444" text-anchor="middle">intensity</text>
</g>
<g>
<clipPath id="cp5"><rect x="175.20" y="166.10" width="105.70" height="105.20"/></clipPath>
<rect x="175.20" y="166.10" width="105.70" height="105.20" fill="#0e3d8c"/>
<g clip-path="url(#cp5)">
<g filter="url(#wv)"><rect x="171.20" y="162.10" width="113.70" height="113.20" fill="url(#grid)" opacity="0.238"/></g>
<rect x="175.20" y="166.10" width="105.70" height="105.20" filter="url(#nz)" opacity="0.063"/>
<rect x="175.20" y="166.10" width="105.70" height="105.20" filter="url(#nzd)" opacity="0.199"/>
<g filter="url(#bl3)" opacity="0.25"><path d="M227.60,209.10 C234.92,209.10 239.80,214.06 239.80,221.50 C239.80,229.16 232.97,238.90 227.60,238.90 C222.23,238.90 215.40,229.16 215.40,221.50 C215.40,214.06 220.28,209.10 227.60,209.10 Z" none stroke="#2a6cb8" stroke-width="9.00"/></g><g filter="url(#bl)" opacity="0.40"><path d="M227.60,209.10 C234.92,209.10 239.80,214.06 239.80,221.50 C239.80,229.16 232.97,238.90 227.60,238.90 C222.23,238.90 215.40,229.16 215.40,221.50 C215.40,214.06 220.28,209.10 227.60,209.10 Z" none stroke="#3f86cc" stroke-width="2.60"/></g><path d="M227.60,209.10 C234.92,209.10 239.80,214.06 239.80,221.50 C239.80,229.16 232.97,238.90 227.60,238.90 C222.23,238.90 215.40,229.16 215.40,221.50 C215.40,214.06 220.28,209.10 227.60,209.10 Z" fill="#0a306b" /><g filter="url(#bl4)"><line x1="218.0" y1="241.6" x2="237.7" y2="241.6" stroke="#86b3e0" stroke-width="0.9"/><path d="M225.3,241.3 L230.3,241.3 L227.8,244.2 Z" fill="#7eaee0"/></g>
</g>
<rect x="175.20" y="166.10" width="105.70" height="105.20" fill="none" stroke="#14284a" stroke-width="0.6" opacity="0.8"/>
<text transform="translate(262.95 181.60) scale(0.93 1)" font-family="'Liberation Serif', serif" font-size="12.8" fill="#f2f6fb" stroke="#f2f6fb" stroke-width="0.25">(f)</text>
<text transform="translate(227.55 161.60) scale(0.931 1)" font-family="'Liberation Serif', serif" font-size="11.7" fill="#000" stroke="#000" stroke-width="0.12" text-anchor="middle">+100 kA &amp; −30 nC/mm</text>
<line x1="175.20" y1="271.30" x2="175.20" y2="272.60" stroke="#333" stroke-width="0.5"/>
<text x="175.20" y="277.25" font-family="'Liberation Serif', serif" font-size="4.8" fill="#2a2a2a" stroke="#2a2a2a" stroke-width="0.08" text-anchor="middle">−1.5</text>
<line x1="173.90" y1="271.30" x2="175.20" y2="271.30" stroke="#333" stroke-width="0.5"/>
<text x="173.30" y="273.50" font-family="'Liberation Serif', serif" font-size="4.8" fill="#2a2a2a" stroke="#2a2a2a" stroke-width="0.08" text-anchor="end">−1.5</text>
<line x1="192.82" y1="271.30" x2="192.82" y2="272.60" stroke="#333" stroke-width="0.5"/>
<text x="192.82" y="277.25" font-family="'Liberation Serif', serif" font-size="4.8" fill="#2a2a2a" stroke="#2a2a2a" stroke-width="0.08" text-anchor="middle">−1.0</text>
<line x1="173.90" y1="253.77" x2="175.20" y2="253.77" stroke="#333" stroke-width="0.5"/>
<text x="173.30" y="255.97" font-family="'Liberation Serif', serif" font-size="4.8" fill="#2a2a2a" stroke="#2a2a2a" stroke-width="0.08" text-anchor="end">−1.0</text>
<line x1="210.43" y1="271.30" x2="210.43" y2="272.60" stroke="#333" stroke-width="0.5"/>
<text x="210.43" y="277.25" font-family="'Liberation Serif', serif" font-size="4.8" fill="#2a2a2a" stroke="#2a2a2a" stroke-width="0.08" text-anchor="middle">−0.5</text>
<line x1="173.90" y1="236.23" x2="175.20" y2="236.23" stroke="#333" stroke-width="0.5"/>
<text x="173.30" y="238.43" font-family="'Liberation Serif', serif" font-size="4.8" fill="#2a2a2a" stroke="#2a2a2a" stroke-width="0.08" text-anchor="end">−0.5</text>
<line x1="228.05" y1="271.30" x2="228.05" y2="272.60" stroke="#333" stroke-width="0.5"/>
<text x="228.05" y="277.25" font-family="'Liberation Serif', serif" font-size="4.8" fill="#2a2a2a" stroke="#2a2a2a" stroke-width="0.08" text-anchor="middle">0.0</text>
<line x1="173.90" y1="218.70" x2="175.20" y2="218.70" stroke="#333" stroke-width="0.5"/>
<text x="173.30" y="220.90" font-family="'Liberation Serif', serif" font-size="4.8" fill="#2a2a2a" stroke="#2a2a2a" stroke-width="0.08" text-anchor="end">0.0</text>
<line x1="245.67" y1="271.30" x2="245.67" y2="272.60" stroke="#333" stroke-width="0.5"/>
<text x="245.67" y="277.25" font-family="'Liberation Serif', serif" font-size="4.8" fill="#2a2a2a" stroke="#2a2a2a" stroke-width="0.08" text-anchor="middle">0.5</text>
<line x1="173.90" y1="201.17" x2="175.20" y2="201.17" stroke="#333" stroke-width="0.5"/>
<text x="173.30" y="203.37" font-family="'Liberation Serif', serif" font-size="4.8" fill="#2a2a2a" stroke="#2a2a2a" stroke-width="0.08" text-anchor="end">0.5</text>
<line x1="263.28" y1="271.30" x2="263.28" y2="272.60" stroke="#333" stroke-width="0.5"/>
<text x="263.28" y="277.25" font-family="'Liberation Serif', serif" font-size="4.8" fill="#2a2a2a" stroke="#2a2a2a" stroke-width="0.08" text-anchor="middle">1.0</text>
<line x1="173.90" y1="183.63" x2="175.20" y2="183.63" stroke="#333" stroke-width="0.5"/>
<text x="173.30" y="185.83" font-family="'Liberation Serif', serif" font-size="4.8" fill="#2a2a2a" stroke="#2a2a2a" stroke-width="0.08" text-anchor="end">1.0</text>
<line x1="280.90" y1="271.30" x2="280.90" y2="272.60" stroke="#333" stroke-width="0.5"/>
<text x="280.90" y="277.25" font-family="'Liberation Serif', serif" font-size="4.8" fill="#2a2a2a" stroke="#2a2a2a" stroke-width="0.08" text-anchor="middle">1.5</text>
<line x1="173.90" y1="166.10" x2="175.20" y2="166.10" stroke="#333" stroke-width="0.5"/>
<text x="173.30" y="168.30" font-family="'Liberation Serif', serif" font-size="4.8" fill="#2a2a2a" stroke="#2a2a2a" stroke-width="0.08" text-anchor="end">1.5</text>
<text x="229.05" y="282.15" font-family="'Liberation Serif', serif" font-size="6.6" font-weight="bold" fill="#111" stroke="#111" stroke-width="0.1" text-anchor="middle">z (mm)</text>
<text transform="translate(162.45 219.70) rotate(-90)" font-family="'Liberation Serif', serif" font-size="6.6" font-weight="bold" fill="#111" stroke="#111" stroke-width="0.1" text-anchor="middle">y (mm)</text>
<rect x="287.30" y="153.00" width="6.80" height="131.00" fill="url(#cbg)" stroke="#c4c8ce" stroke-width="0.5"/>
<line x1="294.10" y1="284.00" x2="295.40" y2="284.00" stroke="#333" stroke-width="0.5"/>
<line x1="294.10" y1="268.10" x2="295.40" y2="268.10" stroke="#333" stroke-width="0.5"/>
<line x1="294.10" y1="252.20" x2="295.40" y2="252.20" stroke="#333" stroke-width="0.5"/>
<line x1="294.10" y1="236.31" x2="295.40" y2="236.31" stroke="#333" stroke-width="0.5"/>
<line x1="294.10" y1="220.41" x2="295.40" y2="220.41" stroke="#333" stroke-width="0.5"/>
<line x1="294.10" y1="204.51" x2="295.40" y2="204.51" stroke="#333" stroke-width="0.5"/>
<line x1="294.10" y1="188.61" x2="295.40" y2="188.61" stroke="#333" stroke-width="0.5"/>
<line x1="294.10" y1="172.71" x2="295.40" y2="172.71" stroke="#333" stroke-width="0.5"/>
<line x1="294.10" y1="156.82" x2="295.40" y2="156.82" stroke="#333" stroke-width="0.5"/>
<text x="296.50" y="285.75" font-family="'Liberation Serif', serif" font-size="4.7" fill="#2a2a2a" stroke="#2a2a2a" stroke-width="0.08">0</text>
<text x="296.50" y="269.85" font-family="'Liberation Serif', serif" font-size="4.7" fill="#2a2a2a" stroke="#2a2a2a" stroke-width="0.08">5</text>
<text x="296.50" y="253.95" font-family="'Liberation Serif', serif" font-size="4.7" fill="#2a2a2a" stroke="#2a2a2a" stroke-width="0.08">10</text>
<text x="296.50" y="238.06" font-family="'Liberation Serif', serif" font-size="4.7" fill="#2a2a2a" stroke="#2a2a2a" stroke-width="0.08">15</text>
<text x="296.50" y="222.16" font-family="'Liberation Serif', serif" font-size="4.7" fill="#2a2a2a" stroke="#2a2a2a" stroke-width="0.08">20</text>
<text x="296.50" y="206.26" font-family="'Liberation Serif', serif" font-size="4.7" fill="#2a2a2a" stroke="#2a2a2a" stroke-width="0.08">25</text>
<text x="296.50" y="190.36" font-family="'Liberation Serif', serif" font-size="4.7" fill="#2a2a2a" stroke="#2a2a2a" stroke-width="0.08">30</text>
<text x="296.50" y="174.46" font-family="'Liberation Serif', serif" font-size="4.7" fill="#2a2a2a" stroke="#2a2a2a" stroke-width="0.08">35</text>
<text x="296.50" y="158.57" font-family="'Liberation Serif', serif" font-size="4.7" fill="#2a2a2a" stroke="#2a2a2a" stroke-width="0.08">40</text>
<text transform="translate(306.30 218.50) rotate(-90)" font-family="'Liberation Serif', serif" font-size="5.1" fill="#444" text-anchor="middle">intensity</text>
</g>
<g>
<clipPath id="cp6"><rect x="329.65" y="166.10" width="105.70" height="105.20"/></clipPath>
<rect x="329.65" y="166.10" width="105.70" height="105.20" fill="#114598"/>
<g clip-path="url(#cp6)">
<g filter="url(#wv)"><rect x="325.65" y="162.10" width="113.70" height="113.20" fill="url(#grid)" opacity="0.300"/></g>
<rect x="329.65" y="166.10" width="105.70" height="105.20" filter="url(#nz)" opacity="0.100"/>
<rect x="329.65" y="166.10" width="105.70" height="105.20" filter="url(#nzd)" opacity="0.250"/>
<g filter="url(#bl3)" opacity="0.35"><path d="M382.3,217.0 C383.3,215.6 384.8,214.9 386.7,214.9 C392.8,215.1 396.6,224.5 396.6,234.5 A14.55,23.3 0 0 1 382.05,257.8 A14.55,23.3 0 0 1 367.5,234.5 C367.5,224.5 371.4,215.1 377.6,214.9 C379.6,214.9 381.2,215.6 382.3,217.0 Z" none stroke="#2a6cb8" stroke-width="9.00"/></g><g filter="url(#bl)" opacity="0.60"><path d="M382.3,217.0 C383.3,215.6 384.8,214.9 386.7,214.9 C392.8,215.1 396.6,224.5 396.6,234.5 A14.55,23.3 0 0 1 382.05,257.8 A14.55,23.3 0 0 1 367.5,234.5 C367.5,224.5 371.4,215.1 377.6,214.9 C379.6,214.9 381.2,215.6 382.3,217.0 Z" none stroke="#3f86cc" stroke-width="2.60"/></g><path d="M382.3,217.0 C383.3,215.6 384.8,214.9 386.7,214.9 C392.8,215.1 396.6,224.5 396.6,234.5 A14.55,23.3 0 0 1 382.05,257.8 A14.55,23.3 0 0 1 367.5,234.5 C367.5,224.5 371.4,215.1 377.6,214.9 C379.6,214.9 381.2,215.6 382.3,217.0 Z" fill="#0a306b" /><g filter="url(#bl4)"><circle cx="382.3" cy="216.5" r="0.8" fill="#8cb8e4"/><line x1="382.3" y1="216" x2="382.3" y2="212" stroke="#5d93d0" stroke-width="0.5" opacity="0.6"/></g>
</g>
<rect x="329.65" y="166.10" width="105.70" height="105.20" fill="none" stroke="#14284a" stroke-width="0.6" opacity="0.8"/>
<text transform="translate(415.25 181.60) scale(0.93 1)" font-family="'Liberation Serif', serif" font-size="12.8" fill="#f2f6fb" stroke="#f2f6fb" stroke-width="0.25">(g)</text>
<text transform="translate(381.90 161.60) scale(0.931 1)" font-family="'Liberation Serif', serif" font-size="11.7" fill="#000" stroke="#000" stroke-width="0.12" text-anchor="middle">−100 kA &amp; +30 nC/mm</text>
<line x1="329.65" y1="271.30" x2="329.65" y2="272.60" stroke="#333" stroke-width="0.5"/>
<text x="329.65" y="277.25" font-family="'Liberation Serif', serif" font-size="4.8" fill="#2a2a2a" stroke="#2a2a2a" stroke-width="0.08" text-anchor="middle">−1.5</text>
<line x1="328.35" y1="271.30" x2="329.65" y2="271.30" stroke="#333" stroke-width="0.5"/>
<text x="327.75" y="273.50" font-family="'Liberation Serif', serif" font-size="4.8" fill="#2a2a2a" stroke="#2a2a2a" stroke-width="0.08" text-anchor="end">−1.5</text>
<line x1="347.27" y1="271.30" x2="347.27" y2="272.60" stroke="#333" stroke-width="0.5"/>
<text x="347.27" y="277.25" font-family="'Liberation Serif', serif" font-size="4.8" fill="#2a2a2a" stroke="#2a2a2a" stroke-width="0.08" text-anchor="middle">−1.0</text>
<line x1="328.35" y1="253.77" x2="329.65" y2="253.77" stroke="#333" stroke-width="0.5"/>
<text x="327.75" y="255.97" font-family="'Liberation Serif', serif" font-size="4.8" fill="#2a2a2a" stroke="#2a2a2a" stroke-width="0.08" text-anchor="end">−1.0</text>
<line x1="364.88" y1="271.30" x2="364.88" y2="272.60" stroke="#333" stroke-width="0.5"/>
<text x="364.88" y="277.25" font-family="'Liberation Serif', serif" font-size="4.8" fill="#2a2a2a" stroke="#2a2a2a" stroke-width="0.08" text-anchor="middle">−0.5</text>
<line x1="328.35" y1="236.23" x2="329.65" y2="236.23" stroke="#333" stroke-width="0.5"/>
<text x="327.75" y="238.43" font-family="'Liberation Serif', serif" font-size="4.8" fill="#2a2a2a" stroke="#2a2a2a" stroke-width="0.08" text-anchor="end">−0.5</text>
<line x1="382.50" y1="271.30" x2="382.50" y2="272.60" stroke="#333" stroke-width="0.5"/>
<text x="382.50" y="277.25" font-family="'Liberation Serif', serif" font-size="4.8" fill="#2a2a2a" stroke="#2a2a2a" stroke-width="0.08" text-anchor="middle">0.0</text>
<line x1="328.35" y1="218.70" x2="329.65" y2="218.70" stroke="#333" stroke-width="0.5"/>
<text x="327.75" y="220.90" font-family="'Liberation Serif', serif" font-size="4.8" fill="#2a2a2a" stroke="#2a2a2a" stroke-width="0.08" text-anchor="end">0.0</text>
<line x1="400.12" y1="271.30" x2="400.12" y2="272.60" stroke="#333" stroke-width="0.5"/>
<text x="400.12" y="277.25" font-family="'Liberation Serif', serif" font-size="4.8" fill="#2a2a2a" stroke="#2a2a2a" stroke-width="0.08" text-anchor="middle">0.5</text>
<line x1="328.35" y1="201.17" x2="329.65" y2="201.17" stroke="#333" stroke-width="0.5"/>
<text x="327.75" y="203.37" font-family="'Liberation Serif', serif" font-size="4.8" fill="#2a2a2a" stroke="#2a2a2a" stroke-width="0.08" text-anchor="end">0.5</text>
<line x1="417.73" y1="271.30" x2="417.73" y2="272.60" stroke="#333" stroke-width="0.5"/>
<text x="417.73" y="277.25" font-family="'Liberation Serif', serif" font-size="4.8" fill="#2a2a2a" stroke="#2a2a2a" stroke-width="0.08" text-anchor="middle">1.0</text>
<line x1="328.35" y1="183.63" x2="329.65" y2="183.63" stroke="#333" stroke-width="0.5"/>
<text x="327.75" y="185.83" font-family="'Liberation Serif', serif" font-size="4.8" fill="#2a2a2a" stroke="#2a2a2a" stroke-width="0.08" text-anchor="end">1.0</text>
<line x1="435.35" y1="271.30" x2="435.35" y2="272.60" stroke="#333" stroke-width="0.5"/>
<text x="435.35" y="277.25" font-family="'Liberation Serif', serif" font-size="4.8" fill="#2a2a2a" stroke="#2a2a2a" stroke-width="0.08" text-anchor="middle">1.5</text>
<line x1="328.35" y1="166.10" x2="329.65" y2="166.10" stroke="#333" stroke-width="0.5"/>
<text x="327.75" y="168.30" font-family="'Liberation Serif', serif" font-size="4.8" fill="#2a2a2a" stroke="#2a2a2a" stroke-width="0.08" text-anchor="end">1.5</text>
<text x="381.55" y="282.15" font-family="'Liberation Serif', serif" font-size="6.6" font-weight="bold" fill="#111" stroke="#111" stroke-width="0.1" text-anchor="middle">z (mm)</text>
<text transform="translate(316.20 219.70) rotate(-90)" font-family="'Liberation Serif', serif" font-size="6.6" font-weight="bold" fill="#111" stroke="#111" stroke-width="0.1" text-anchor="middle">y (mm)</text>
<rect x="441.50" y="153.00" width="6.80" height="131.00" fill="url(#cbg)" stroke="#c4c8ce" stroke-width="0.5"/>
<line x1="448.30" y1="284.00" x2="449.60" y2="284.00" stroke="#333" stroke-width="0.5"/>
<line x1="448.30" y1="256.71" x2="449.60" y2="256.71" stroke="#333" stroke-width="0.5"/>
<line x1="448.30" y1="229.42" x2="449.60" y2="229.42" stroke="#333" stroke-width="0.5"/>
<line x1="448.30" y1="202.12" x2="449.60" y2="202.12" stroke="#333" stroke-width="0.5"/>
<line x1="448.30" y1="174.83" x2="449.60" y2="174.83" stroke="#333" stroke-width="0.5"/>
<text x="450.70" y="285.75" font-family="'Liberation Serif', serif" font-size="4.7" fill="#2a2a2a" stroke="#2a2a2a" stroke-width="0.08">0</text>
<text x="450.70" y="258.46" font-family="'Liberation Serif', serif" font-size="4.7" fill="#2a2a2a" stroke="#2a2a2a" stroke-width="0.08">5</text>
<text x="450.70" y="231.17" font-family="'Liberation Serif', serif" font-size="4.7" fill="#2a2a2a" stroke="#2a2a2a" stroke-width="0.08">10</text>
<text x="450.70" y="203.88" font-family="'Liberation Serif', serif" font-size="4.7" fill="#2a2a2a" stroke="#2a2a2a" stroke-width="0.08">15</text>
<text x="450.70" y="176.58" font-family="'Liberation Serif', serif" font-size="4.7" fill="#2a2a2a" stroke="#2a2a2a" stroke-width="0.08">20</text>
<text transform="translate(460.50 218.50) rotate(-90)" font-family="'Liberation Serif', serif" font-size="5.1" fill="#444" text-anchor="middle">intensity</text>
</g>
<g>
<clipPath id="cp7"><rect x="483.75" y="166.10" width="105.70" height="105.20"/></clipPath>
<rect x="483.75" y="166.10" width="105.70" height="105.20" fill="#0d3a85"/>
<g clip-path="url(#cp7)">
<g filter="url(#wv)"><rect x="479.75" y="162.10" width="113.70" height="113.20" fill="url(#grid)" opacity="0.207"/></g>
<rect x="483.75" y="166.10" width="105.70" height="105.20" filter="url(#nz)" opacity="0.048"/>
<rect x="483.75" y="166.10" width="105.70" height="105.20" filter="url(#nzd)" opacity="0.172"/>
<g filter="url(#bl3)" opacity="0.30"><path d="M524.7,219.3 Q527,222.8 529.4,223.5 Q533.5,224 536.5,221.9 Q539.5,224 542.9,223.5 Q546.3,222.8 548.6,219.1 Q547.5,224.5 546,227.7 Q540,230.5 536.5,236.6 Q533,230.5 526.8,227.7 Q525.3,224.5 524.7,219.3 Z" none stroke="#3a7cc4" stroke-width="6.00"/></g><path d="M524.7,219.3 Q527,222.8 529.4,223.5 Q533.5,224 536.5,221.9 Q539.5,224 542.9,223.5 Q546.3,222.8 548.6,219.1 Q547.5,224.5 546,227.7 Q540,230.5 536.5,236.6 Q533,230.5 526.8,227.7 Q525.3,224.5 524.7,219.3 Z" fill="url(#gd)" stroke="#6d9fd6" stroke-width="0.85" stroke-linejoin="round" filter="url(#bl4)"/>
</g>
<rect x="483.75" y="166.10" width="105.70" height="105.20" fill="none" stroke="#14284a" stroke-width="0.6" opacity="0.8"/>
<text transform="translate(570.15 181.60) scale(0.93 1)" font-family="'Liberation Serif', serif" font-size="12.8" fill="#f2f6fb" stroke="#f2f6fb" stroke-width="0.25">(h)</text>
<text transform="translate(535.70 161.60) scale(0.931 1)" font-family="'Liberation Serif', serif" font-size="11.7" fill="#000" stroke="#000" stroke-width="0.12" text-anchor="middle">−100 kA &amp; −30 nC/mm</text>
<line x1="483.75" y1="271.30" x2="483.75" y2="272.60" stroke="#333" stroke-width="0.5"/>
<text x="483.75" y="277.25" font-family="'Liberation Serif', serif" font-size="4.8" fill="#2a2a2a" stroke="#2a2a2a" stroke-width="0.08" text-anchor="middle">−1.5</text>
<line x1="482.45" y1="271.30" x2="483.75" y2="271.30" stroke="#333" stroke-width="0.5"/>
<text x="481.85" y="273.50" font-family="'Liberation Serif', serif" font-size="4.8" fill="#2a2a2a" stroke="#2a2a2a" stroke-width="0.08" text-anchor="end">−1.5</text>
<line x1="501.37" y1="271.30" x2="501.37" y2="272.60" stroke="#333" stroke-width="0.5"/>
<text x="501.37" y="277.25" font-family="'Liberation Serif', serif" font-size="4.8" fill="#2a2a2a" stroke="#2a2a2a" stroke-width="0.08" text-anchor="middle">−1.0</text>
<line x1="482.45" y1="253.77" x2="483.75" y2="253.77" stroke="#333" stroke-width="0.5"/>
<text x="481.85" y="255.97" font-family="'Liberation Serif', serif" font-size="4.8" fill="#2a2a2a" stroke="#2a2a2a" stroke-width="0.08" text-anchor="end">−1.0</text>
<line x1="518.98" y1="271.30" x2="518.98" y2="272.60" stroke="#333" stroke-width="0.5"/>
<text x="518.98" y="277.25" font-family="'Liberation Serif', serif" font-size="4.8" fill="#2a2a2a" stroke="#2a2a2a" stroke-width="0.08" text-anchor="middle">−0.5</text>
<line x1="482.45" y1="236.23" x2="483.75" y2="236.23" stroke="#333" stroke-width="0.5"/>
<text x="481.85" y="238.43" font-family="'Liberation Serif', serif" font-size="4.8" fill="#2a2a2a" stroke="#2a2a2a" stroke-width="0.08" text-anchor="end">−0.5</text>
<line x1="536.60" y1="271.30" x2="536.60" y2="272.60" stroke="#333" stroke-width="0.5"/>
<text x="536.60" y="277.25" font-family="'Liberation Serif', serif" font-size="4.8" fill="#2a2a2a" stroke="#2a2a2a" stroke-width="0.08" text-anchor="middle">0.0</text>
<line x1="482.45" y1="218.70" x2="483.75" y2="218.70" stroke="#333" stroke-width="0.5"/>
<text x="481.85" y="220.90" font-family="'Liberation Serif', serif" font-size="4.8" fill="#2a2a2a" stroke="#2a2a2a" stroke-width="0.08" text-anchor="end">0.0</text>
<line x1="554.22" y1="271.30" x2="554.22" y2="272.60" stroke="#333" stroke-width="0.5"/>
<text x="554.22" y="277.25" font-family="'Liberation Serif', serif" font-size="4.8" fill="#2a2a2a" stroke="#2a2a2a" stroke-width="0.08" text-anchor="middle">0.5</text>
<line x1="482.45" y1="201.17" x2="483.75" y2="201.17" stroke="#333" stroke-width="0.5"/>
<text x="481.85" y="203.37" font-family="'Liberation Serif', serif" font-size="4.8" fill="#2a2a2a" stroke="#2a2a2a" stroke-width="0.08" text-anchor="end">0.5</text>
<line x1="571.83" y1="271.30" x2="571.83" y2="272.60" stroke="#333" stroke-width="0.5"/>
<text x="571.83" y="277.25" font-family="'Liberation Serif', serif" font-size="4.8" fill="#2a2a2a" stroke="#2a2a2a" stroke-width="0.08" text-anchor="middle">1.0</text>
<line x1="482.45" y1="183.63" x2="483.75" y2="183.63" stroke="#333" stroke-width="0.5"/>
<text x="481.85" y="185.83" font-family="'Liberation Serif', serif" font-size="4.8" fill="#2a2a2a" stroke="#2a2a2a" stroke-width="0.08" text-anchor="end">1.0</text>
<line x1="589.45" y1="271.30" x2="589.45" y2="272.60" stroke="#333" stroke-width="0.5"/>
<text x="589.45" y="277.25" font-family="'Liberation Serif', serif" font-size="4.8" fill="#2a2a2a" stroke="#2a2a2a" stroke-width="0.08" text-anchor="middle">1.5</text>
<line x1="482.45" y1="166.10" x2="483.75" y2="166.10" stroke="#333" stroke-width="0.5"/>
<text x="481.85" y="168.30" font-family="'Liberation Serif', serif" font-size="4.8" fill="#2a2a2a" stroke="#2a2a2a" stroke-width="0.08" text-anchor="end">1.5</text>
<text x="535.55" y="282.15" font-family="'Liberation Serif', serif" font-size="6.6" font-weight="bold" fill="#111" stroke="#111" stroke-width="0.1" text-anchor="middle">z (mm)</text>
<text transform="translate(470.50 219.70) rotate(-90)" font-family="'Liberation Serif', serif" font-size="6.6" font-weight="bold" fill="#111" stroke="#111" stroke-width="0.1" text-anchor="middle">y (mm)</text>
<rect x="595.30" y="153.00" width="6.80" height="131.00" fill="url(#cbg)" stroke="#c4c8ce" stroke-width="0.5"/>
<line x1="602.10" y1="284.00" x2="603.40" y2="284.00" stroke="#333" stroke-width="0.5"/>
<line x1="602.10" y1="260.05" x2="603.40" y2="260.05" stroke="#333" stroke-width="0.5"/>
<line x1="602.10" y1="236.10" x2="603.40" y2="236.10" stroke="#333" stroke-width="0.5"/>
<line x1="602.10" y1="212.15" x2="603.40" y2="212.15" stroke="#333" stroke-width="0.5"/>
<line x1="602.10" y1="188.20" x2="603.40" y2="188.20" stroke="#333" stroke-width="0.5"/>
<line x1="602.10" y1="164.26" x2="603.40" y2="164.26" stroke="#333" stroke-width="0.5"/>
<text x="604.50" y="285.75" font-family="'Liberation Serif', serif" font-size="4.7" fill="#2a2a2a" stroke="#2a2a2a" stroke-width="0.08">0</text>
<text x="604.50" y="261.80" font-family="'Liberation Serif', serif" font-size="4.7" fill="#2a2a2a" stroke="#2a2a2a" stroke-width="0.08">10</text>
<text x="604.50" y="237.85" font-family="'Liberation Serif', serif" font-size="4.7" fill="#2a2a2a" stroke="#2a2a2a" stroke-width="0.08">20</text>
<text x="604.50" y="213.90" font-family="'Liberation Serif', serif" font-size="4.7" fill="#2a2a2a" stroke="#2a2a2a" stroke-width="0.08">30</text>
<text x="604.50" y="189.95" font-family="'Liberation Serif', serif" font-size="4.7" fill="#2a2a2a" stroke="#2a2a2a" stroke-width="0.08">40</text>
<text x="604.50" y="166.01" font-family="'Liberation Serif', serif" font-size="4.7" fill="#2a2a2a" stroke="#2a2a2a" stroke-width="0.08">50</text>
<text transform="translate(614.30 218.50) rotate(-90)" font-family="'Liberation Serif', serif" font-size="5.1" fill="#444" text-anchor="middle">intensity</text>
</g>
</svg>
</body></html>
